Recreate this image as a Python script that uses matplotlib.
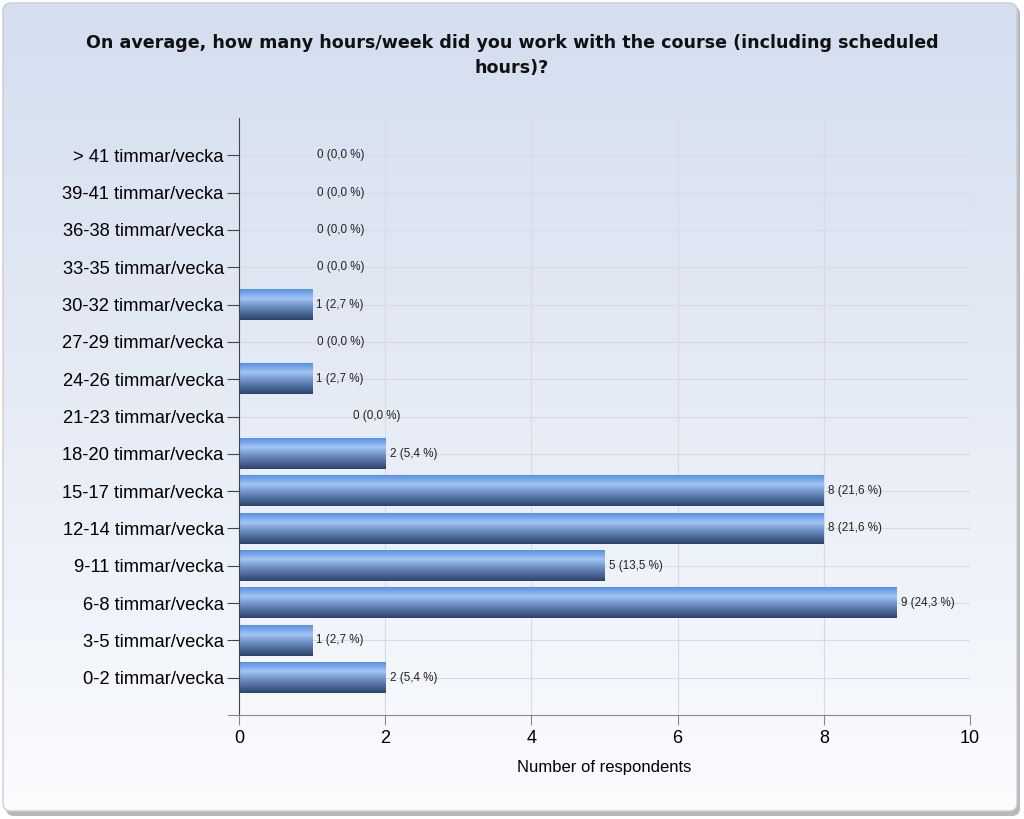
import matplotlib.pyplot as plt
import numpy as np
from matplotlib.patches import FancyBboxPatch
from matplotlib.colors import LinearSegmentedColormap

categories = ['0-2 timmar/vecka', '3-5 timmar/vecka', '6-8 timmar/vecka', '9-11 timmar/vecka',
              '12-14 timmar/vecka', '15-17 timmar/vecka', '18-20 timmar/vecka', '21-23 timmar/vecka',
              '24-26 timmar/vecka', '27-29 timmar/vecka', '30-32 timmar/vecka', '33-35 timmar/vecka',
              '36-38 timmar/vecka', '39-41 timmar/vecka', '> 41 timmar/vecka']
counts = [2, 1, 9, 5, 8, 8, 2, 0, 1, 0, 1, 0, 0, 0, 0]
percents = ['5,4', '2,7', '24,3', '13,5', '21,6', '21,6', '5,4', '0,0',
            '2,7', '0,0', '2,7', '0,0', '0,0', '0,0', '0,0']

title = 'On average, how many hours/week did you work with the course (including scheduled\nhours)?'

fig = plt.figure(figsize=(10.24, 8.19), dpi=100)

# background with rounded frame
bg = fig.add_axes([0, 0, 1, 1])
bg.set_xlim(0, 1024)
bg.set_ylim(819, 0)
bg.axis('off')
shadow = FancyBboxPatch((6, 6), 1014, 810, boxstyle='round,pad=0,rounding_size=8',
                        fc='#b8b8b8', ec='none', zorder=0)
bg.add_patch(shadow)
frame = FancyBboxPatch((3, 3), 1014, 808, boxstyle='round,pad=0,rounding_size=8',
                       fc='none', ec='#c8cdd6', lw=1, zorder=3)
bg.add_patch(frame)
grad = np.linspace(0, 1, 256).reshape(-1, 1)
bg_cmap = LinearSegmentedColormap.from_list('bg', ['#d4deef', '#e6ecf6', '#fbfcfe'])
im = bg.imshow(grad, cmap=bg_cmap, extent=[3, 1017, 811, 3], aspect='auto', zorder=1)
clip = FancyBboxPatch((3, 3), 1014, 808, boxstyle='round,pad=0,rounding_size=8',
                      fc='none', ec='none', transform=bg.transData)
bg.add_patch(clip)
im.set_clip_path(clip)

fig.text(0.5, 0.958, title, ha='center', va='top', fontsize=12.6, fontweight='bold',
         family='DejaVu Sans', color='#111111', linespacing=1.45)

ax = fig.add_axes([239 / 1024, 1 - 715 / 819, (970 - 239) / 1024, (715 - 118) / 819])
ax.patch.set_alpha(0)
y = np.arange(len(categories))
ax.set_xlim(0, 10)
ax.set_ylim(-1, len(categories))

bar_cmap = LinearSegmentedColormap.from_list(
    'bar', [(0, '#5590e6'), (0.3, '#a3c4f2'), (0.55, '#6f92c6'), (1, '#2a426c')])
h = 0.82
bars = ax.barh(y, counts, height=h, color='none', zorder=2)
for b in bars:
    w = b.get_width()
    if w <= 0:
        continue
    yb = b.get_y()
    ax.imshow(grad, cmap=bar_cmap, extent=[0, w, yb, yb + h], origin='upper', aspect='auto',
              zorder=2, interpolation='bilinear')
ax.set_xlim(0, 10)
ax.set_ylim(-1, len(categories))

for yi, c, p in zip(y, counts, percents):
    if c > 0:
        xpos = c + 0.06
    elif yi == 7:
        xpos = 1.56
    else:
        xpos = 1.07
    ax.text(xpos, yi, f'{c} ({p} %)', va='center', ha='left', fontsize=8.4,
            family='Liberation Sans', color='#222222', zorder=4)

ax.set_yticks(y)
ax.set_yticklabels(categories, fontsize=13.2, family='Liberation Sans')
ax.set_xticks([0, 2, 4, 6, 8, 10])
ax.set_xticklabels(['0', '2', '4', '6', '8', '10'], fontsize=13, family='Liberation Sans')
ax.set_xlabel('Number of respondents', fontsize=12, family='Liberation Sans', labelpad=9)

ax.grid(True, color='#d6dbe3', lw=0.8, zorder=0)
ax.set_axisbelow(True)
for s in ['top', 'right']:
    ax.spines[s].set_visible(False)
ax.spines['left'].set_color('#444444')
ax.spines['bottom'].set_color('#888888')
ax.tick_params(axis='y', length=9, color='#444444', pad=2)
ax.tick_params(axis='x', length=7, color='#888888', pad=4, direction='out')
ax.spines['bottom'].set_bounds(-0.15, 10)

fig.savefig('out.png', dpi=100)
